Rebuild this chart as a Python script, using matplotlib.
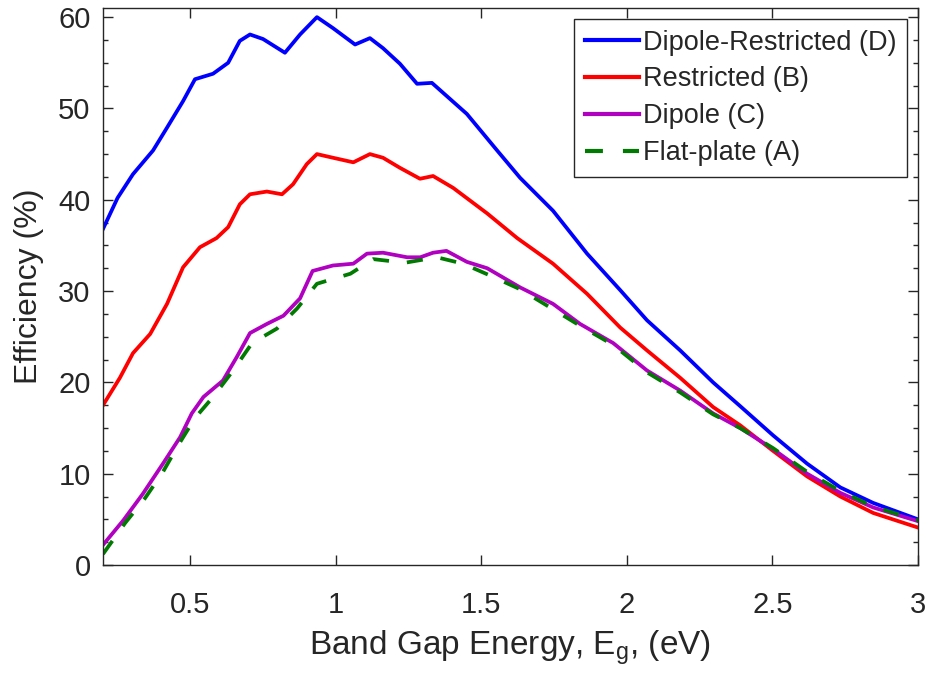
import matplotlib
matplotlib.use("Agg")
import matplotlib.pyplot as plt
from matplotlib.ticker import MultipleLocator

plt.rcParams['font.family'] = ['Liberation Sans', 'DejaVu Sans']

# Dipole-Restricted (D)
x_d = [0.2,0.25,0.303,0.372,0.42,0.475,0.516,0.578,0.63,0.67,0.705,0.75,0.825,0.877,0.935,0.99,
       1.066,1.117,1.162,1.22,1.279,1.33,1.39,1.45,1.554,1.633,1.746,1.863,1.977,2.069,2.183,
       2.296,2.389,2.502,2.619,2.733,2.846,3.0]
y_d = [36.8,40.2,42.8,45.4,47.9,50.8,53.2,53.8,55.0,57.4,58.1,57.6,56.1,58.1,60.0,58.8,
       57.0,57.7,56.6,54.9,52.7,52.8,51.1,49.4,45.4,42.4,38.8,34.1,30.1,26.8,23.5,
       20.0,17.4,14.2,11.1,8.5,6.8,5.0]

# Restricted (B)
x_b = [0.2,0.258,0.303,0.362,0.42,0.475,0.533,0.59,0.63,0.67,0.705,0.763,0.815,0.853,0.90,0.935,
       0.99,1.06,1.117,1.162,1.22,1.289,1.334,1.403,1.52,1.623,1.746,1.863,1.977,2.069,2.183,
       2.296,2.389,2.502,2.619,2.733,2.846,3.0]
y_b = [17.5,20.5,23.2,25.3,28.6,32.6,34.8,35.8,37.0,39.5,40.6,40.9,40.6,41.7,43.9,45.0,
       44.6,44.1,45.0,44.6,43.5,42.3,42.6,41.3,38.5,35.8,33.0,29.7,26.0,23.5,20.5,
       17.3,15.3,12.5,9.7,7.5,5.7,4.1]

# Dipole (C)
x_c = [0.2,0.27,0.337,0.406,0.465,0.505,0.545,0.612,0.66,0.705,0.763,0.82,0.877,0.92,0.99,1.06,
       1.107,1.162,1.245,1.29,1.334,1.38,1.45,1.52,1.633,1.746,1.839,1.953,2.069,2.183,2.296,
       2.389,2.502,2.619,2.733,2.846,3.0]
y_c = [2.2,4.9,7.8,11.1,14.0,16.6,18.4,20.2,22.8,25.4,26.4,27.3,29.2,32.2,32.8,33.0,
       34.1,34.2,33.7,33.7,34.2,34.4,33.2,32.5,30.4,28.6,26.4,24.3,21.3,19.1,16.6,
       15.0,12.7,10.0,7.9,6.3,4.8]

# Flat-plate (A)
x_a = [0.2,0.276,0.344,0.406,0.458,0.516,0.578,0.647,0.712,0.798,0.867,0.935,1.05,1.128,1.237,
       1.347,1.437,1.53,1.633,1.726,1.839,1.953,2.069,2.183,2.296,2.389,2.502,2.619,2.733,2.846,3.0]
y_a = [1.2,4.6,7.3,10.2,13.1,16.1,18.4,21.3,24.3,25.9,28.1,30.8,31.9,33.5,33.1,
       33.7,33.0,31.7,30.2,28.4,26.2,24.1,21.1,18.9,16.5,15.0,12.8,10.2,8.1,6.4,4.9]

labels = ['Dipole-Restricted (D)', 'Restricted (B)', 'Dipole (C)', 'Flat-plate (A)']
x_ticks = [0.5, 1, 1.5, 2, 2.5, 3]
x_tick_labels = ['0.5', '1', '1.5', '2', '2.5', '3']
y_ticks = [0, 10, 20, 30, 40, 50, 60]

fig = plt.figure(figsize=(9.3, 6.75), dpi=100)
ax = fig.add_axes([103/930, 110/675, 815/930, 557/675])

lw = 2.7
ax.plot(x_d, y_d, color='#0000ff', lw=lw, label=labels[0])
ax.plot(x_b, y_b, color='#ff0000', lw=lw, label=labels[1])
ax.plot(x_c, y_c, color='#b000c0', lw=lw, label=labels[2])
ax.plot(x_a, y_a, color='#007a00', lw=lw, dashes=(4.3, 4.8), label=labels[3])

ax.set_xlim(0.2, 3.0)
ax.set_ylim(0, 61)
ax.set_xticks(x_ticks)
ax.set_xticklabels(x_tick_labels)
ax.set_yticks(y_ticks)
ax.yaxis.set_minor_locator(MultipleLocator(2.5))

tc = '#262626'
ax.tick_params(which='both', direction='in', top=True, right=True, colors=tc,
               labelsize=21, width=1.0)
ax.tick_params(which='major', length=7)
ax.tick_params(which='minor', length=3.5)
ax.tick_params(axis='x', which='major', pad=19)
ax.tick_params(axis='y', which='major', pad=9)
for s in ax.spines.values():
    s.set_color(tc)
    s.set_linewidth(1.0)

ax.set_xlabel('Band Gap Energy, E$_\\mathregular{g}$, (eV)', fontsize=24, color=tc, labelpad=6)
ax.set_ylabel('Efficiency (%)', fontsize=23, color=tc, labelpad=10)

leg = ax.legend(loc='upper right', fontsize=19.5, frameon=True, fancybox=False,
                edgecolor=tc, framealpha=1.0, handlelength=2.0, handletextpad=0.15,
                labelspacing=0.4, borderpad=0.4, borderaxespad=0.4)
leg.get_frame().set_linewidth(1.0)
for t in leg.get_texts():
    t.set_color(tc)
for h in leg.get_lines():
    h.set_linewidth(3.0)

fig.savefig('out.png', dpi=100)
